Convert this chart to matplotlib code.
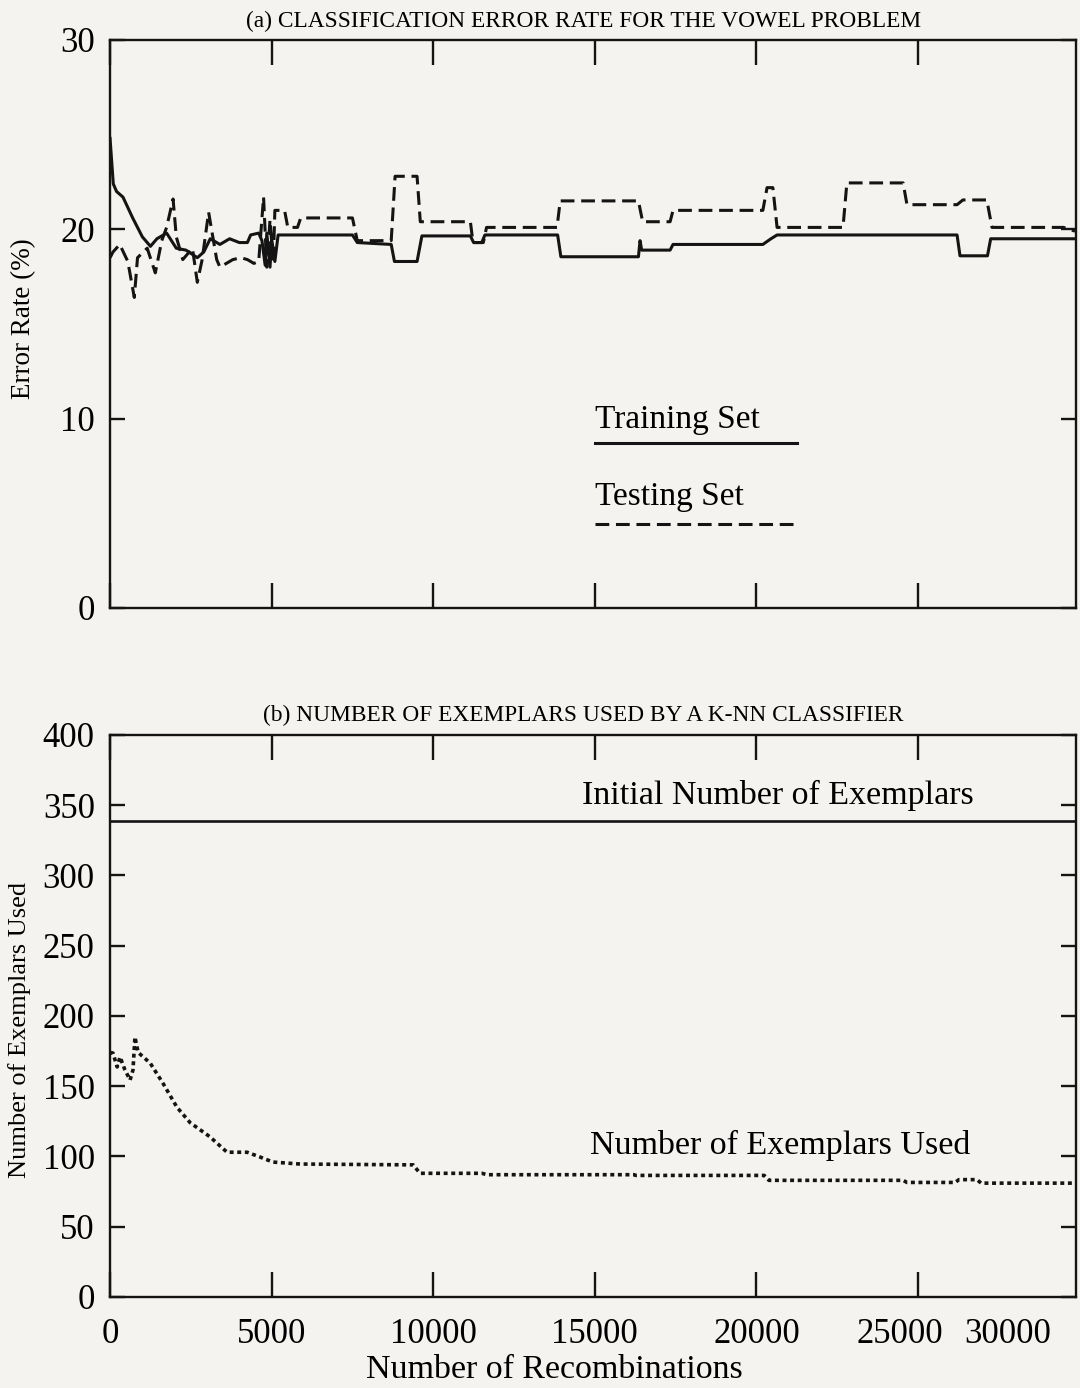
import matplotlib
matplotlib.use("Agg")
import matplotlib.pyplot as plt

matplotlib.rcParams.update({'font.family': 'Liberation Serif', 'font.size': 25})
paper = '#f4f3ef'
ink = '#141414'

# (a) error rate
train_x = [0, 100, 200, 400, 700, 1000, 1250, 1450, 1750, 2050, 2350, 2700, 2900, 3100, 3400,
           3700, 4000, 4250, 4350, 4600, 4700, 4800, 4850, 4950, 5000, 5100, 5200, 7500, 7650,
           8700, 8800, 9500, 9650, 11150, 11250, 11500, 11600, 13850, 13950, 16350, 16400, 16450,
           17330, 17420, 20200, 20450, 20640, 26210, 26300, 27150, 27250, 29860]
train_y = [24.8, 22.4, 22.0, 21.7, 20.6, 19.6, 19.1, 19.5, 19.8, 19.0, 18.9, 18.5, 18.8, 19.5, 19.2,
           19.5, 19.3, 19.3, 19.7, 19.8, 19.4, 18.1, 19.8, 18.0, 19.5, 18.3, 19.7, 19.7, 19.3,
           19.2, 18.3, 18.3, 19.65, 19.65, 19.3, 19.3, 19.7, 19.7, 18.55, 18.55, 19.4, 18.9,
           18.9, 19.2, 19.2, 19.5, 19.7, 19.7, 18.6, 18.6, 19.5, 19.5]

test_x = [0, 90, 300, 550, 750, 850, 1150, 1400, 1600, 1750, 1950, 2050, 2250, 2550, 2700, 2850,
          3050, 3200, 3300, 3400, 3600, 3800, 4050, 4250, 4450, 4600, 4750, 4850, 4950, 5050,
          5100, 5400, 5500, 5800, 5900, 7500, 7650, 8700, 8820, 9500, 9600, 11150, 11230, 11550,
          11650, 13830, 13930, 16350, 16480, 17330, 17420, 20200, 20330, 20510, 20640, 22680,
          22800, 24540, 24660, 26210, 26390, 27130, 27290, 29500, 29860]
test_y = [18.5, 18.8, 19.2, 18.3, 16.4, 18.5, 19.0, 17.7, 19.4, 20.1, 21.6, 19.6, 18.4, 19.0, 17.2,
          18.4, 20.9, 19.4, 18.4, 18.0, 18.2, 18.4, 18.5, 18.4, 18.2, 18.3, 21.7, 18.0, 20.5, 18.2,
          21.0, 21.0, 20.1, 20.1, 20.6, 20.6, 19.4, 19.4, 22.8, 22.8, 20.4, 20.4, 19.3, 19.3,
          20.1, 20.1, 21.5, 21.5, 20.4, 20.4, 21.0, 21.0, 22.2, 22.2, 20.1, 20.1,
          22.45, 22.45, 21.3, 21.3, 21.55, 21.55, 20.1, 20.1, 19.9]

# (b) exemplars
initial_exemplars = 339
ex_x = [0, 90, 220, 310, 460, 620, 710, 770, 870, 1240, 1640, 2070, 2480, 3090, 3620, 4240, 4640,
        5040, 5880, 9380, 9590, 11510, 11660, 16210, 16270, 20240, 20390, 24540, 24660, 26150,
        26270, 26830, 26950, 29860]
ex_y = [174, 173.6, 163.7, 170.8, 161.6, 154.4, 161.6, 185, 174, 166.5, 152, 135, 124, 114, 103,
        103, 99.6, 96, 94.6, 94, 88, 88, 87, 87, 86.5, 86.5, 83, 83, 81.5, 81.5, 83.5, 83.5, 81, 81]

xmax = 29890
xticks = [0, 5000, 10000, 15000, 20000, 25000]
xlabels = ['0', '5000', '10000', '15000', '20000', '']

fig = plt.figure(figsize=(10.8, 13.88), dpi=100, facecolor=paper)
ax1 = fig.add_axes([0.1019, 0.5620, 0.8944, 0.4092], facecolor=paper)
ax2 = fig.add_axes([0.1019, 0.0656, 0.8944, 0.4049], facecolor=paper)

for ax in (ax1, ax2):
    for s in ax.spines.values():
        s.set_linewidth(1.7)
        s.set_color(ink)
    ax.set_xlim(0, xmax)
    ax.tick_params(axis='x', which='major', direction='in', top=True, bottom=True,
                   length=18, width=1.7, color=ink, pad=15)
    ax.tick_params(axis='y', direction='in', left=True, right=True,
                   length=11, width=1.7, color=ink, pad=11)

# top panel
ax1.plot(train_x, train_y, color=ink, lw=2.2)
ax1.plot(test_x, test_y, color=ink, lw=2.2, linestyle=(0, (4.5, 2.2)))
ax1.set_ylim(0, 30)
ax1.set_yticks([0, 10, 20, 30])
ax1.set_xticks(xticks)
ax1.set_xticklabels([])
ax1.set_ylabel('Error Rate (%)', fontsize=19.5)
ax1.yaxis.set_label_coords(-0.077, 0.51)
ax1.set_title('(a) CLASSIFICATION ERROR RATE FOR THE VOWEL PROBLEM', fontsize=16.8, pad=9, x=0.49)

ax1.text(0.502, 0.331, 'Training Set', transform=ax1.transAxes, va='center', ha='left', fontsize=24)
ax1.plot([0.502, 0.711], [0.29, 0.29], transform=ax1.transAxes, color=ink, lw=2.2)
ax1.text(0.502, 0.195, 'Testing Set', transform=ax1.transAxes, va='center', ha='left', fontsize=24)
ax1.plot([0.502, 0.711], [0.148, 0.148], transform=ax1.transAxes, color=ink, lw=2.2,
         linestyle=(0, (4.5, 2.2)))

# bottom panel
ax2.axhline(initial_exemplars, color=ink, lw=1.9)
ax2.plot(ex_x, ex_y, color=ink, lw=2.6, linestyle=(0, (1.1, 1.0)))
ax2.set_ylim(0, 400)
ax2.set_yticks(range(0, 401, 50))
ax2.set_xticks(xticks)
ax2.set_xticklabels(xlabels)
# the scan squeezes the last two labels together
ax2.set_xticks([24440, 27790], ['25000', '30000'], minor=True)
ax2.tick_params(axis='x', which='minor', length=0, pad=15)
ax2.set_xlabel('Number of Recombinations', fontsize=24.5)
ax2.xaxis.set_label_coords(0.46, -0.103)
ax2.set_ylabel('Number of Exemplars Used', fontsize=19)
ax2.yaxis.set_label_coords(-0.082, 0.475)
ax2.set_title('(b) NUMBER OF EXEMPLARS USED BY A K-NN CLASSIFIER', fontsize=16.8, pad=10, x=0.49)

ax2.text(0.6915, 0.893, 'Initial Number of Exemplars', transform=ax2.transAxes,
         va='center', ha='center', fontsize=24.5)
ax2.text(0.6936, 0.27, 'Number of Exemplars Used', transform=ax2.transAxes,
         va='center', ha='center', fontsize=24.5)

plt.savefig('out.png', dpi=100, facecolor=paper)
